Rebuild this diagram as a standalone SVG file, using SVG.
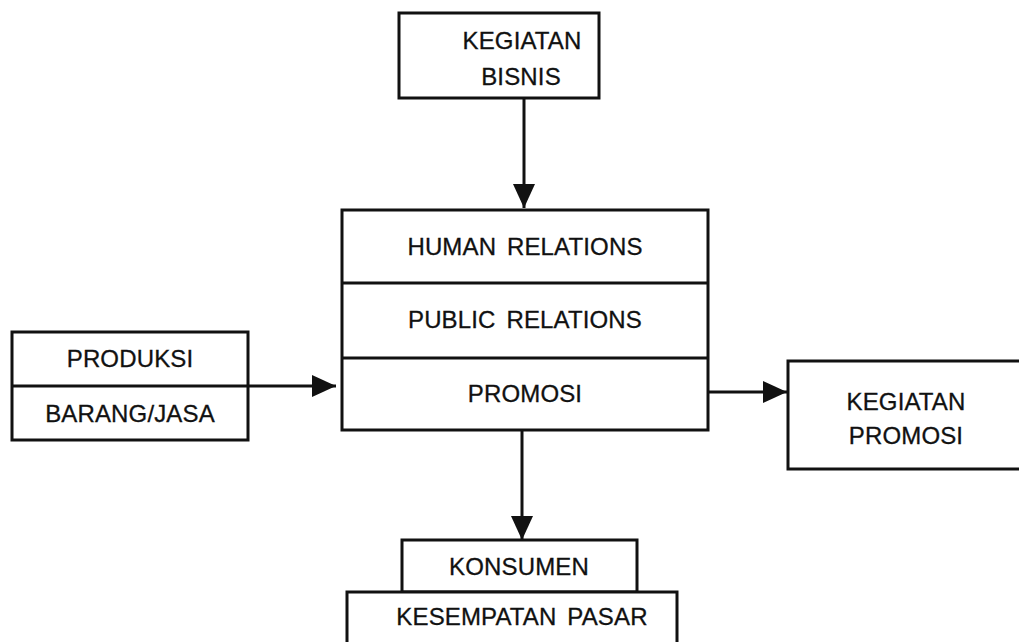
<svg xmlns="http://www.w3.org/2000/svg" width="1019" height="642" viewBox="0 0 1019 642">
  <style>
    .box { fill: #ffffff; stroke: #111111; stroke-width: 3; }
    .div { stroke: #111111; stroke-width: 3; fill: none; }
    .lbl { font-family: "Liberation Sans", Arial, Helvetica, sans-serif; font-size: 24px; fill: #111111; text-anchor: middle; letter-spacing: 0.15px; word-spacing: 4px; stroke: #111111; stroke-width: 0.3px; }
    .conn { stroke: #111111; stroke-width: 3; fill: none; marker-end: url(#arrow); }
  </style>
  <defs>
    <marker id="arrow" markerUnits="userSpaceOnUse" markerWidth="24" markerHeight="22" refX="24" refY="11" orient="auto">
      <path d="M0,0 L24,11 L0,22 Z" fill="#111111"/>
    </marker>
  </defs>
  <rect width="1019" height="642" fill="#ffffff"/>

  <g id="connectors">
    <line class="conn" x1="524" y1="98" x2="524" y2="208"/>
    <line class="conn" x1="248" y1="386" x2="336" y2="386"/>
    <line class="conn" x1="708" y1="392" x2="787" y2="392"/>
    <line class="conn" x1="522" y1="430" x2="522" y2="540"/>
  </g>

  <g id="kegiatan-bisnis">
    <rect class="box" x="399" y="13" width="200" height="85"/>
    <text class="lbl" x="522" y="49">KEGIATAN</text>
    <text class="lbl" x="521" y="85">BISNIS</text>
  </g>

  <g id="relations">
    <rect class="box" x="342" y="210" width="366" height="220"/>
    <line class="div" x1="342" y1="283" x2="708" y2="283"/>
    <line class="div" x1="342" y1="358" x2="708" y2="358"/>
    <text class="lbl" x="525" y="255">HUMAN RELATIONS</text>
    <text class="lbl" x="525" y="328">PUBLIC RELATIONS</text>
    <text class="lbl" x="525" y="402">PROMOSI</text>
  </g>

  <g id="produksi">
    <rect class="box" x="12" y="332" width="236" height="108"/>
    <line class="div" x1="12" y1="386" x2="248" y2="386"/>
    <text class="lbl" x="130" y="367">PRODUKSI</text>
    <text class="lbl" x="130" y="422">BARANG/JASA</text>
  </g>

  <g id="kegiatan-promosi">
    <rect class="box" x="788" y="361" width="240" height="108"/>
    <text class="lbl" x="906" y="410">KEGIATAN</text>
    <text class="lbl" x="906" y="444">PROMOSI</text>
  </g>

  <g id="konsumen">
    <rect class="box" x="402" y="540" width="235" height="52"/>
    <text class="lbl" x="519" y="575">KONSUMEN</text>
  </g>

  <g id="kesempatan-pasar">
    <rect class="box" x="347" y="592" width="330" height="60"/>
    <text class="lbl" x="522" y="625">KESEMPATAN PASAR</text>
  </g>
</svg>
